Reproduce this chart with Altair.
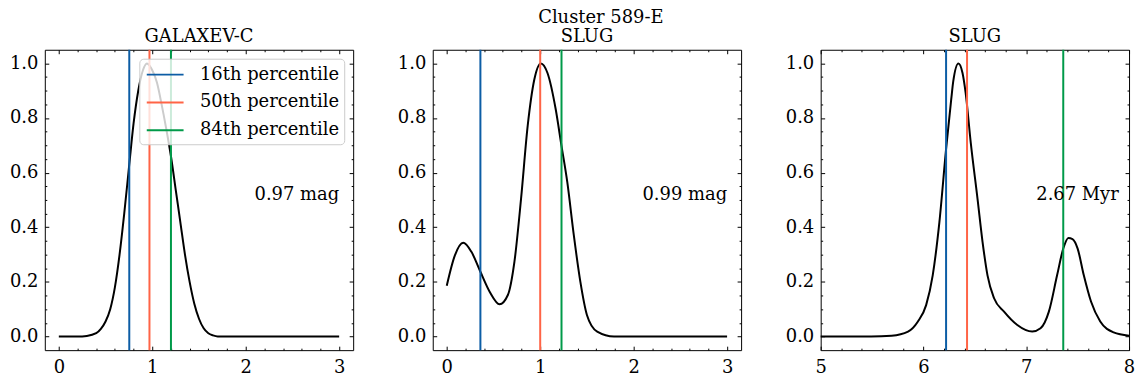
import altair as alt
import pandas as pd

# ---------------- data ----------------
# Panel 1: GALAXEV-C (magnitudes)
P1_X = [0.0, 0.2, 0.3, 0.4, 0.45, 0.5, 0.55, 0.6, 0.65, 0.7, 0.754, 0.8, 0.85, 0.9, 0.943,
        1.0, 1.05, 1.1, 1.15, 1.2, 1.25, 1.3, 1.35, 1.4, 1.45, 1.5, 1.55, 1.6, 1.65, 1.7,
        2.0, 2.5, 3.0]
P1_Y = [0.0, 0.0, 0.002, 0.012, 0.028, 0.055, 0.10, 0.18, 0.30, 0.45, 0.63, 0.78, 0.90, 0.975,
        1.0, 0.975, 0.93, 0.85, 0.76, 0.66, 0.54, 0.42, 0.30, 0.20, 0.12, 0.065, 0.03, 0.012,
        0.004, 0.0, 0.0, 0.0, 0.0]
# Panel 2: SLUG (magnitudes)
P2_X = [0.0, 0.087, 0.176, 0.264, 0.36, 0.459, 0.565, 0.654, 0.724, 0.795, 0.866, 0.937,
        1.007, 1.078, 1.166, 1.227, 1.29, 1.36, 1.43, 1.50, 1.61, 1.79, 2.0, 2.5, 3.0]
P2_Y = [0.186, 0.297, 0.343, 0.31, 0.237, 0.164, 0.118, 0.152, 0.273, 0.504, 0.771, 0.941,
        1.0, 0.965, 0.832, 0.70, 0.565, 0.37, 0.20, 0.079, 0.018, 0.0, 0.0, 0.0, 0.0]
# Panel 3: SLUG (log age)
P3_X = [5.0, 5.49, 5.69, 5.85, 5.946, 6.026, 6.09, 6.155, 6.22, 6.27, 6.29, 6.34, 6.38,
        6.41, 6.46, 6.526, 6.575, 6.623, 6.687, 6.784, 6.913, 7.058, 7.139, 7.22, 7.30,
        7.36, 7.41, 7.45, 7.50, 7.56, 7.63, 7.72, 7.85, 8.0]
P3_Y = [0.0, 0.0, 0.003, 0.018, 0.055, 0.115, 0.224, 0.419, 0.686, 0.868, 0.935, 1.0, 0.965,
        0.893, 0.71, 0.504, 0.346, 0.224, 0.14, 0.091, 0.042, 0.018, 0.03, 0.091, 0.224,
        0.322, 0.361, 0.357, 0.322, 0.224, 0.128, 0.055, 0.015, 0.003]

PCT_LABELS = ["16th percentile", "50th percentile", "84th percentile"]
PCT_COLORS = ["#0C5DA5", "#FF6446", "#009A49"]
P1_PCT = [0.754, 0.97, 1.20]
P2_PCT = [0.36, 1.0, 1.228]
P3_PCT = [6.22, 6.424, 7.36]

TITLES = ["GALAXEV-C", "SLUG", "SLUG"]
SUPTITLE = "Cluster 589-E"
NOTES = ["0.97 mag", "0.99 mag", "2.67 Myr"]
NOTE_X = [3.0, 3.0, 7.9]
NOTE_Y = 0.5

X_DOMAINS = [[-0.15, 3.15], [-0.15, 3.15], [5.0, 8.0]]
X_MAJOR = [[0, 1, 2, 3], [0, 1, 2, 3], [5, 6, 7, 8]]
X_MINOR = [[0.2, 0.4, 0.6, 0.8, 1.2, 1.4, 1.6, 1.8, 2.2, 2.4, 2.6, 2.8],
           [0.2, 0.4, 0.6, 0.8, 1.2, 1.4, 1.6, 1.8, 2.2, 2.4, 2.6, 2.8],
           [5.2, 5.4, 5.6, 5.8, 6.2, 6.4, 6.6, 6.8, 7.2, 7.4, 7.6, 7.8]]
Y_DOMAIN = [-0.05, 1.05]
Y_MAJOR = [0.0, 0.2, 0.4, 0.6, 0.8, 1.0]
Y_MINOR = [0.05, 0.1, 0.15, 0.25, 0.3, 0.35, 0.45, 0.5, 0.55, 0.65, 0.7, 0.75, 0.85, 0.9, 0.95]

FONT = "DejaVu Serif"
FS = 18
W, H = 310, 302


def ax(orient, values, major, labels=False, fmt=None, pad=6):
    size = 4 if major else 2
    kw = dict(orient=orient, values=values, title=None, domain=False, grid=False,
              ticks=True, tickSize=size, offset=-size, tickColor="black", tickWidth=1,
              labels=labels)
    if labels:
        kw.update(labelFont=FONT, labelFontSize=FS, labelColor="black", labelPadding=pad,
                  labelFlush=False, labelOverlap=False, labelBound=False)
        if fmt:
            kw["format"] = fmt
    return alt.Axis(**kw)


def panel(i, xs, ys, pcts, legend):
    df = pd.DataFrame({"x": xs, "y": ys})
    xs_ = alt.Scale(domain=X_DOMAINS[i], nice=False, zero=False)
    ys_ = alt.Scale(domain=Y_DOMAIN, nice=False, zero=False)

    def enc(xa, ya):
        return dict(x=alt.X("x:Q", scale=xs_, axis=xa), y=alt.Y("y:Q", scale=ys_, axis=ya))

    line = alt.Chart(df).mark_line(color="black", strokeWidth=2, interpolate="monotone").encode(
        **enc(ax("bottom", X_MAJOR[i], True, labels=True, fmt="d", pad=8),
              ax("left", Y_MAJOR, True, labels=True, fmt=".1f", pad=7)))
    g1 = alt.Chart(df).mark_point(opacity=0).encode(
        **enc(ax("bottom", X_MINOR[i], False), ax("left", Y_MINOR, False)))
    g2 = alt.Chart(df).mark_point(opacity=0).encode(
        **enc(ax("top", X_MAJOR[i], True), ax("right", Y_MAJOR, True)))
    g3 = alt.Chart(df).mark_point(opacity=0).encode(
        **enc(ax("top", X_MINOR[i], False), ax("right", Y_MINOR, False)))

    pdf = pd.DataFrame({"x": pcts, "pct": PCT_LABELS})
    if legend:
        leg = alt.Legend(title=None, orient="top-right", offset=9, labelFont=FONT,
                         labelFontSize=FS, labelColor="black",
                         symbolType="M-1.85,0L1.85,0", symbolSize=400,
                         symbolStrokeWidth=2, symbolOffset=10, labelOffset=24,
                         padding=5, rowPadding=8, fillColor="rgba(255,255,255,0.8)",
                         strokeColor="#cccccc", cornerRadius=4)
    else:
        leg = None
    rules = alt.Chart(pdf).mark_rule(strokeWidth=2).encode(
        x=alt.X("x:Q", scale=xs_, axis=None),
        color=alt.Color("pct:N", scale=alt.Scale(domain=PCT_LABELS, range=PCT_COLORS),
                        legend=leg))

    tdf = pd.DataFrame({"x": [NOTE_X[i]], "y": [NOTE_Y], "t": [NOTES[i]]})
    note = alt.Chart(tdf).mark_text(align="right", baseline="alphabetic", font=FONT,
                                    fontSize=FS, color="black").encode(
        x=alt.X("x:Q", scale=xs_, axis=None), y=alt.Y("y:Q", scale=ys_, axis=None),
        text="t:N")

    return alt.layer(line, g1, g2, g3, rules, note).resolve_axis(
        x="independent", y="independent").properties(
        width=W, height=H,
        title=alt.TitleParams(TITLES[i], font=FONT, fontSize=FS, fontWeight="normal",
                              color="black", offset=3))


p1 = panel(0, P1_X, P1_Y, P1_PCT, True)
p2 = panel(1, P2_X, P2_Y, P2_PCT, False)
p3 = panel(2, P3_X, P3_Y, P3_PCT, False)

chart = alt.hconcat(p1, p2, p3, spacing=42).resolve_scale(color="independent").properties(
    title=alt.TitleParams(SUPTITLE, font=FONT, fontSize=FS, fontWeight="normal",
                          color="black", anchor="middle", dx=29, dy=-1, offset=-1),
    padding={"left": 0, "top": 0, "right": 0, "bottom": -3},
).configure_view(stroke="black", strokeWidth=1)

chart.save("out.html", embed_options={"renderer": "svg", "actions": False})
